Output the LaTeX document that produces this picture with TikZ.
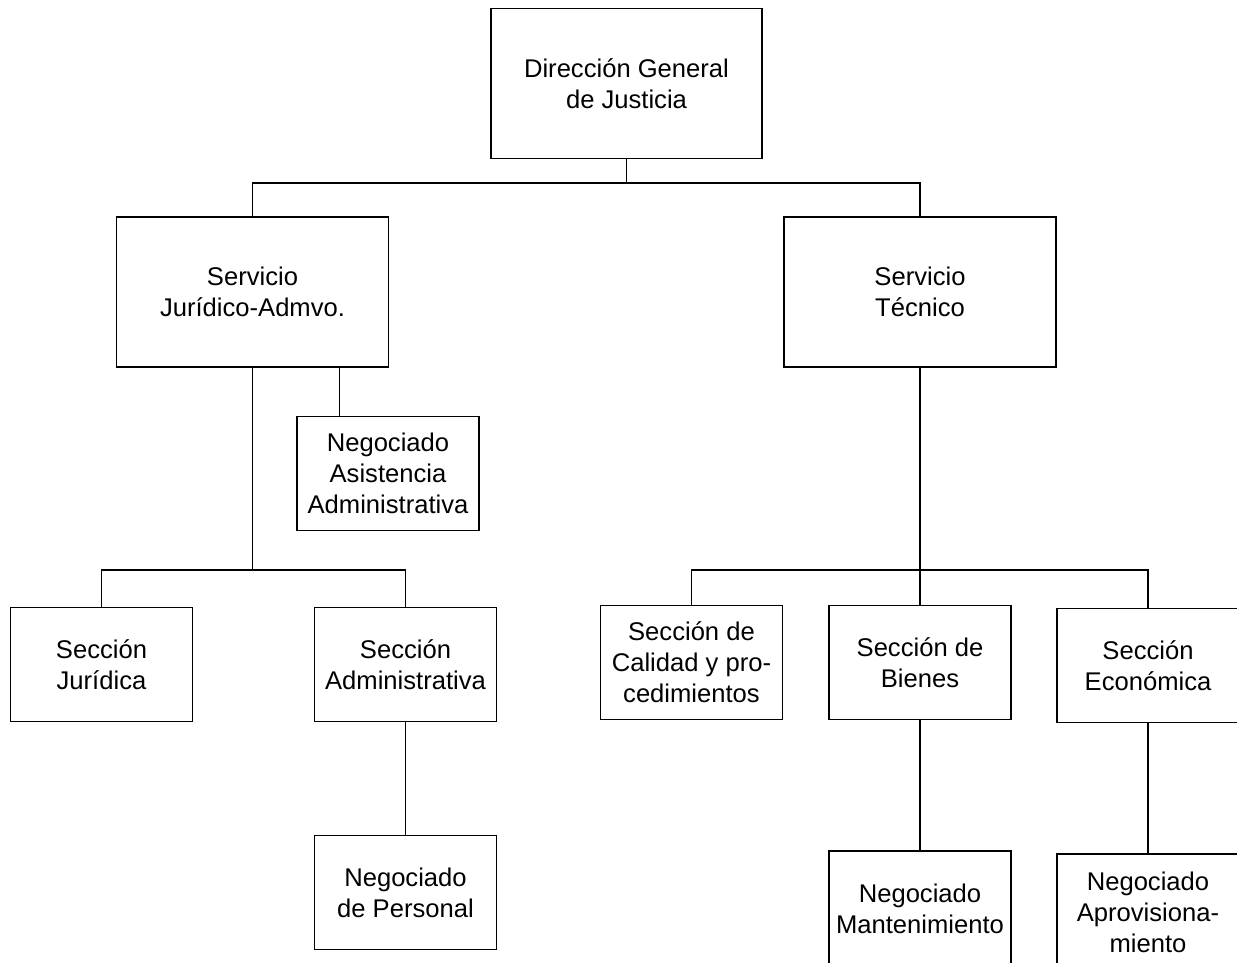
\documentclass[tikz,border=0pt]{standalone}
\usepackage{fontspec}
\setmainfont{Liberation Sans}
\usepackage{tikz}

\begin{document}
\begin{tikzpicture}[x = 0.5pt, y = -0.5pt, line width = 0.6pt,
  box/.style = {draw, align = center, inner sep = 0pt, font = \fontsize{12.8}{15.5}\selectfont},
  big/.style = {box, minimum width = 136pt, minimum height = 75pt},
  small/.style = {box, minimum width = 91pt, minimum height = 57pt}]
\useasboundingbox (0, 0) rectangle (1237, 963);
\clip (0, 0) rectangle (1237, 963);

\node[big, minimum width = 135.5pt] (dir) at (626.5, 83.5) {Dirección General\\de Justicia};
\node[big] (sja) at (252.5, 292) {Servicio\\Jurídico-Admvo.};
\node[big] (stec) at (920, 292) {Servicio\\Técnico};

\node[small] (nasis) at (388, 473.5) {Negociado\\Asistencia\\Administrativa};
\node[small] (sjur) at (101.5, 664.5) {Sección\\Jurídica};
\node[small] (sadm) at (405.5, 664.5) {Sección\\Administrativa};
\node[small] (npers) at (405.5, 892.5) {Negociado\\de Personal};

\node[small] (scal) at (691.5, 662.5) {Sección de\\Calidad y pro-\\cedimientos};
\node[small] (sbien) at (920, 662.5) {Sección de\\Bienes};
\node[small] (secon) at (1148, 665.5) {Sección\\Económica};
\node[small, minimum height = 58pt] (nmant) at (920, 909) {Negociado\\Mantenimiento};
\node[small, minimum height = 58pt] (naprov) at (1148, 912) {Negociado\\Aprovisiona-\\miento};

\coordinate (busA) at (626.5, 183);
\coordinate (busB) at (252.5, 570);
\coordinate (busC) at (920, 570);
\coordinate (asisTop) at (339.5, 417);

\draw (dir.south) -- (busA);
\draw (sja.north) |- (busA) -| (stec.north);

\draw (sja.south) -- (busB);
\draw (sja.south -| asisTop) -- (asisTop);
\draw (sjur.north) |- (busB) -| (sadm.north);
\draw (sadm.south) -- (npers.north);

\draw (stec.south) -- (sbien.north);
\draw (scal.north) |- (busC) -| (secon.north);
\draw (sbien.south) -- (nmant.north);
\draw (secon.south) -- (naprov.north);

\end{tikzpicture}
\end{document}
